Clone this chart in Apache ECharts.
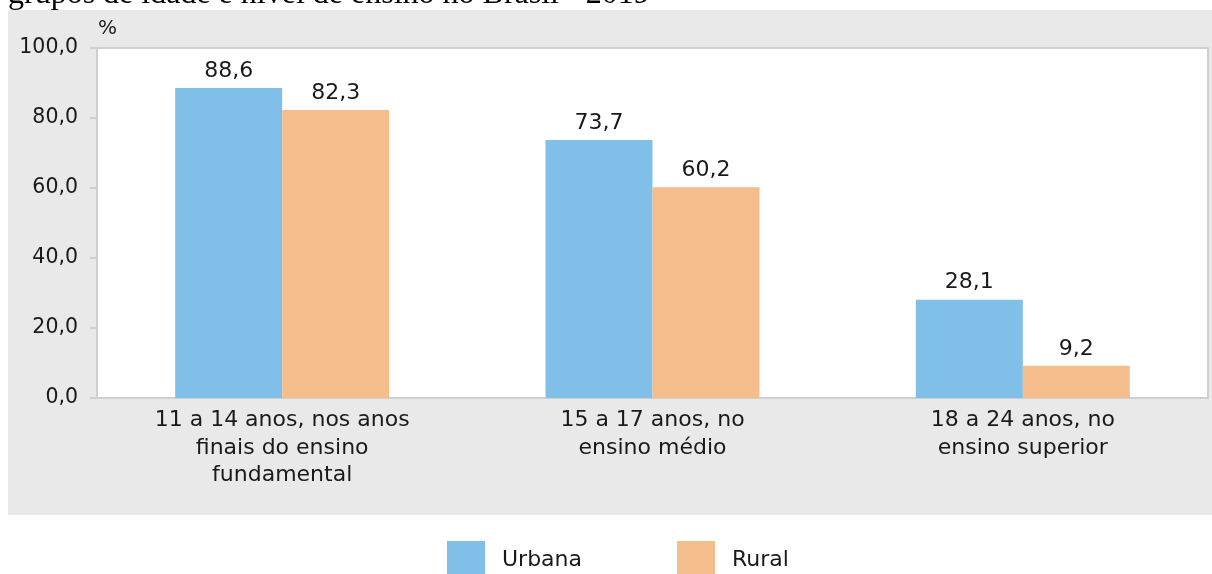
<!DOCTYPE html>
<html>
<head>
<meta charset="utf-8">
<script src="https://cdn.jsdelivr.net/npm/echarts@6/dist/echarts.min.js"></script>
<style>
  html, body { margin: 0; padding: 0; background: #fff; }
  #main { width: 1212px; height: 574px; }
</style>
</head>
<body>
<div id="main"></div>
<script>
var categories = ['11 a 14 anos, nos anos\nfinais do ensino\nfundamental', '15 a 17 anos, no\nensino médio', '18 a 24 anos, no\nensino superior'];
var urbana = [88.6, 73.7, 28.1];
var rural = [82.3, 60.2, 9.2];
var yTicks = [0, 20, 40, 60, 80, 100];

var font = '"DejaVu Sans", Verdana, sans-serif';
var ink = '#1a1a1a';

function fmt(v) {
    return v.toFixed(1).replace('.', ',');
}

var myChart = echarts.init(document.getElementById('main'));

var option = {
    animation: false,
    graphic: [{
        type: 'rect',
        z: -10,
        shape: { x: 8, y: 10, width: 1204, height: 505 },
        style: { fill: '#e9e9e9' }
    }, {
        type: 'text',
        x: 8,
        y: 11,
        z: -5,
        style: {
            text: 'grupos de idade e nível de ensino no Brasil - 2019',
            font: '32px "Liberation Serif", "Times New Roman", serif',
            verticalAlign: 'bottom',
            fill: '#000'
        }
    }],
    grid: {
        left: 97,
        right: 4,
        top: 48,
        bottom: 176,
        show: true,
        backgroundColor: '#fff',
        borderColor: '#cfcfcf',
        borderWidth: 2
    },
    legend: {
        top: 541,
        left: 447,
        padding: 0,
        icon: 'rect',
        itemWidth: 38,
        itemHeight: 38,
        itemGap: 95,
        textStyle: { fontFamily: font, fontSize: 22, color: ink, padding: [0, 0, 0, 12] },
        data: ['Urbana', 'Rural']
    },
    xAxis: {
        type: 'category',
        data: categories,
        axisLine: { show: true, lineStyle: { color: '#cfcfcf', width: 2 } },
        axisTick: { show: false },
        axisLabel: {
            fontFamily: font,
            fontSize: 22,
            color: ink,
            lineHeight: 27.5,
            margin: 9
        }
    },
    yAxis: {
        type: 'value',
        min: 0,
        max: 100,
        interval: 20,
        name: '%',
        nameLocation: 'end',
        nameGap: 9,
        nameTextStyle: { fontFamily: font, fontSize: 20, color: ink, align: 'left', padding: [0, 0, 0, 1] },
        axisLine: { show: false },
        axisTick: { show: true, length: 7, lineStyle: { color: '#cfcfcf', width: 2 } },
        splitLine: { show: false },
        axisLabel: {
            fontFamily: font,
            fontSize: 20.5,
            color: ink,
            margin: 19,
            formatter: function (v) { return fmt(v); }
        }
    },
    series: [{
        name: 'Urbana',
        type: 'bar',
        data: urbana,
        barWidth: 107,
        barGap: '0%',
        itemStyle: { color: '#80bfe8' },
        label: {
            show: true,
            position: 'top',
            distance: 6,
            fontFamily: font,
            fontSize: 22,
            color: ink,
            formatter: function (p) { return fmt(p.value); }
        }
    }, {
        name: 'Rural',
        type: 'bar',
        data: rural,
        barWidth: 107,
        barGap: '0%',
        itemStyle: { color: '#f5bd8c' },
        label: {
            show: true,
            position: 'top',
            distance: 6,
            fontFamily: font,
            fontSize: 22,
            color: ink,
            formatter: function (p) { return fmt(p.value); }
        }
    }]
};

myChart.setOption(option);
</script>
</body>
</html>
